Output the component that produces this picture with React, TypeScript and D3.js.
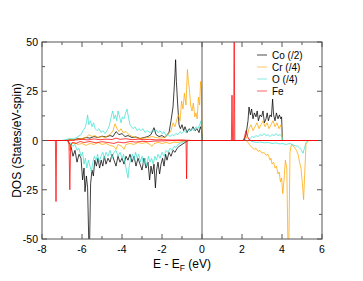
import React from 'react';
import * as d3 from 'd3';

// [energy (eV), DOS] pairs; spin down is negative
const coUp = [[-8,0],[-6.8,0],[-6.6,0.5],[-6.4,0.3],[-6.2,1],[-6.0,0.8],[-5.8,1.5],[-5.6,1.2],[-5.4,2],[-5.2,1.5],[-5.0,2.2],[-4.8,1.8],[-4.6,2.5],[-4.45,2],[-4.3,4.5],[-4.15,3],[-4.0,3.5],[-3.85,2],[-3.7,2.5],[-3.5,1.5],[-3.3,1.8],[-3.1,1],[-2.9,1.5],[-2.7,2],[-2.55,3],[-2.4,6.5],[-2.3,3],[-2.15,2],[-2.0,2.5],[-1.85,1.5],[-1.75,3],[-1.65,4],[-1.55,10],[-1.45,17],[-1.4,25],[-1.35,34],[-1.32,41],[-1.28,30],[-1.22,19],[-1.15,8],[-1.08,6],[-1.0,8],[-0.92,5],[-0.85,7],[-0.75,4],[-0.65,6],[-0.55,5],[-0.45,7],[-0.35,5],[-0.25,6],[-0.15,4],[-0.08,7],[-0.02,5],[0.02,0],[2.1,0],[2.2,3],[2.3,10],[2.35,17],[2.42,13],[2.48,16],[2.55,11],[2.62,14],[2.7,12],[2.76,15],[2.82,10],[2.9,13],[2.98,12],[3.05,15],[3.12,9],[3.2,11],[3.26,14],[3.32,10],[3.4,13],[3.47,12],[3.53,21],[3.58,13],[3.65,10],[3.72,14],[3.8,11],[3.87,13],[3.94,11],[3.98,12],[4.02,0],[6,0]];
const coDown = [[-8,0],[-6.7,0],[-6.55,-3],[-6.45,-8],[-6.35,-5],[-6.25,-11],[-6.15,-7],[-6.05,-9],[-5.97,-20],[-5.9,-14],[-5.85,-26],[-5.78,-18],[-5.72,-24],[-5.66,-52],[-5.62,-52],[-5.57,-22],[-5.5,-15],[-5.43,-18],[-5.36,-10],[-5.28,-13],[-5.2,-9],[-5.12,-14],[-5.04,-10],[-4.96,-13],[-4.88,-8],[-4.8,-12],[-4.7,-9],[-4.6,-11],[-4.5,-7],[-4.4,-10],[-4.3,-13],[-4.2,-8],[-4.1,-11],[-4.0,-9],[-3.9,-12],[-3.8,-8],[-3.7,-10],[-3.6,-7],[-3.5,-11],[-3.4,-8],[-3.3,-13],[-3.2,-9],[-3.1,-12],[-3.0,-15],[-2.9,-9],[-2.8,-14],[-2.7,-11],[-2.62,-20],[-2.55,-13],[-2.48,-17],[-2.4,-12],[-2.33,-24],[-2.27,-15],[-2.2,-11],[-2.12,-17],[-2.05,-12],[-1.97,-9],[-1.9,-13],[-1.82,-7],[-1.75,-10],[-1.65,-6],[-1.55,-8],[-1.45,-5],[-1.35,-6],[-1.25,-4],[-1.15,-3],[-1.0,-2],[-0.85,-1],[-0.7,0],[6,0]];

const crUp = [[-8,0],[-6.8,0],[-6.6,0.5],[-6.4,0.3],[-6.2,0.8],[-6.0,1],[-5.8,1.5],[-5.65,3],[-5.5,2],[-5.35,2.5],[-5.2,1.5],[-5.0,2],[-4.85,1.5],[-4.7,2.5],[-4.55,3.5],[-4.45,5],[-4.35,8.5],[-4.25,6],[-4.15,4.5],[-4.05,6],[-3.95,4],[-3.8,4.5],[-3.65,3],[-3.5,2],[-3.3,1.5],[-3.1,1],[-2.9,1.2],[-2.7,1.5],[-2.5,2],[-2.3,1.5],[-2.1,1.2],[-1.9,1.5],[-1.75,2.5],[-1.65,3.5],[-1.55,5],[-1.45,9],[-1.35,7],[-1.25,11],[-1.18,13],[-1.1,10],[-1.02,20],[-0.95,16],[-0.88,24],[-0.8,18],[-0.73,36],[-0.68,30],[-0.63,26],[-0.57,18],[-0.5,15],[-0.43,19],[-0.36,12],[-0.3,14],[-0.24,11],[-0.18,22],[-0.12,18],[-0.07,30],[-0.03,26],[0.01,0],[2.15,0],[2.25,2],[2.35,6],[2.45,8],[2.55,5],[2.65,7],[2.75,9],[2.85,6],[2.95,8],[3.05,10],[3.15,7],[3.25,9],[3.35,6],[3.45,8],[3.55,10],[3.65,7],[3.75,9],[3.85,6],[3.95,8],[4.02,0],[6,0]];
const crDown = [[-8,0],[-6.75,0],[-6.65,-1.5],[-6.6,-5],[-6.55,-2],[-6.4,-1],[-6.2,-2],[-6.0,-1.5],[-5.8,-2.5],[-5.6,-1.5],[-5.4,-2],[-5.2,-1],[-5.0,-2],[-4.8,-1.5],[-4.6,-2.5],[-4.4,-3],[-4.3,-4.5],[-4.2,-2],[-4.0,-3],[-3.9,-4.5],[-3.8,-2],[-3.6,-1.5],[-3.4,-2],[-3.2,-1],[-3.0,-1.5],[-2.8,-1],[-2.6,-2],[-2.5,-3],[-2.4,-1.5],[-2.2,-1],[-2.0,-1.5],[-1.8,-1],[-1.6,-1.5],[-1.4,-0.8],[-1.2,-1],[-1.0,-0.5],[-0.8,-0.3],[-0.6,0],[2.2,0],[2.3,-1],[2.4,-2.5],[2.5,-3.5],[2.6,-4.5],[2.7,-4],[2.8,-5.5],[2.9,-5],[3.0,-6.5],[3.1,-6],[3.2,-7.5],[3.3,-7],[3.4,-10],[3.45,-9],[3.5,-12],[3.58,-11],[3.65,-14],[3.72,-13],[3.8,-17],[3.86,-16],[3.92,-21],[3.98,-19],[4.04,-27],[4.1,-20],[4.17,-10],[4.24,-14],[4.3,-55],[4.34,-55],[4.4,-6],[4.47,-2],[4.55,-2.5],[4.65,-4],[4.72,-5],[4.8,-7],[4.88,-11],[4.95,-14],[5.02,-22],[5.08,-30],[5.13,-18],[5.2,-2],[5.28,-0.5],[5.35,0],[6,0]];

const oUp = [[-8,0],[-7.0,0],[-6.8,0.5],[-6.6,1],[-6.4,0.8],[-6.2,2],[-6.05,3],[-5.95,5],[-5.85,6.5],[-5.78,9],[-5.72,13],[-5.66,8],[-5.58,10],[-5.5,7],[-5.42,9],[-5.34,6],[-5.25,5],[-5.15,6],[-5.05,4],[-4.95,5],[-4.85,3.5],[-4.75,5],[-4.65,7],[-4.58,10],[-4.52,13],[-4.46,15],[-4.4,11],[-4.33,13],[-4.26,10],[-4.2,15],[-4.12,12],[-4.05,9],[-3.98,12],[-3.9,11],[-3.82,14],[-3.75,16],[-3.68,12],[-3.6,8],[-3.52,7],[-3.45,6],[-3.35,7],[-3.25,5],[-3.15,6],[-3.05,5],[-2.95,6],[-2.85,4],[-2.75,5],[-2.6,4],[-2.5,5],[-2.4,4.5],[-2.3,5.5],[-2.2,4],[-2.1,5],[-2.0,3.5],[-1.9,4.5],[-1.8,2.5],[-1.7,3],[-1.6,2],[-1.5,3],[-1.4,2.5],[-1.3,3.5],[-1.2,3],[-1.1,4.5],[-1.0,3.5],[-0.9,5],[-0.8,4],[-0.7,5.5],[-0.6,4.5],[-0.5,6],[-0.4,5],[-0.3,7],[-0.2,6],[-0.12,8],[-0.05,10],[0.01,0],[2.3,0],[2.4,1],[2.5,2],[2.6,1.5],[2.7,2.5],[2.8,2],[2.9,3],[3.0,2.5],[3.1,3.5],[3.2,2.5],[3.3,3],[3.4,2],[3.5,3],[3.6,2.5],[3.7,3.5],[3.8,2.5],[3.9,3],[4.0,2],[4.05,0],[6,0]];
const oDown = [[-8,0],[-6.8,0],[-6.6,-1],[-6.45,-3],[-6.35,-2],[-6.25,-5],[-6.15,-4],[-6.05,-8],[-5.97,-6],[-5.9,-12],[-5.83,-9],[-5.76,-14],[-5.68,-10],[-5.6,-13],[-5.53,-16],[-5.46,-11],[-5.38,-8],[-5.3,-10],[-5.22,-7],[-5.14,-11],[-5.05,-8],[-4.96,-6],[-4.88,-9],[-4.8,-6],[-4.7,-8],[-4.6,-5],[-4.5,-9],[-4.4,-6],[-4.3,-5],[-4.2,-8],[-4.1,-6],[-4.0,-9],[-3.92,-7],[-3.84,-12],[-3.76,-16],[-3.7,-19],[-3.64,-13],[-3.56,-9],[-3.48,-7],[-3.4,-10],[-3.32,-6],[-3.24,-9],[-3.16,-7],[-3.08,-11],[-3.0,-8],[-2.92,-12],[-2.84,-9],[-2.76,-13],[-2.68,-8],[-2.6,-11],[-2.52,-9],[-2.44,-12],[-2.36,-8],[-2.28,-10],[-2.2,-7],[-2.1,-9],[-2.0,-6],[-1.9,-8],[-1.8,-5],[-1.7,-6],[-1.6,-4],[-1.5,-5],[-1.4,-3],[-1.3,-3.5],[-1.2,-2],[-1.1,-1.5],[-1.0,-1],[-0.9,-0.5],[-0.8,0],[2.4,0],[2.5,-0.5],[2.7,-1],[2.9,-0.8],[3.1,-1.2],[3.3,-1],[3.5,-1.5],[3.7,-1.2],[3.9,-1.8],[4.0,-1.5],[4.2,-2],[4.4,-1.5],[4.6,-2.5],[4.8,-3],[4.95,-4.5],[5.05,-6.5],[5.12,-4],[5.2,-1],[5.3,0],[6,0]];

const feUp = [[-8,0],[-6.5,0],[-6.3,0.3],[-6.0,0.6],[-5.7,0.3],[-5.4,0.8],[-5.1,0.4],[-4.8,0.7],[-4.5,0.5],[-4.3,1.2],[-4.1,0.6],[-3.8,0.9],[-3.5,0.4],[-3.2,0.7],[-2.9,0.4],[-2.6,0.6],[-2.3,0.3],[-2.0,0.4],[-1.5,0.2],[-1.0,0.3],[-0.5,0],[1.47,0],[1.5,23],[1.53,0],[1.58,0],[1.61,60],[1.64,0],[2.05,0],[2.12,1.5],[2.2,5],[2.28,2],[2.35,0.5],[2.45,0],[6,0]];
const feDown = [[-8,0],[-7.33,0],[-7.3,-31],[-7.27,0],[-6.7,0],[-6.65,-2],[-6.61,-25],[-6.57,-3],[-6.5,-1],[-6.3,-1.5],[-6.1,-0.5],[-5.9,-1],[-5.6,-0.5],[-5.3,-1.2],[-5.0,-0.6],[-4.7,-1],[-4.4,-1.5],[-4.2,-0.8],[-3.9,-1.2],[-3.6,-0.5],[-3.3,-0.8],[-3.0,-0.4],[-2.7,-0.6],[-2.4,-0.3],[-2.0,-0.2],[-1.5,0],[-0.8,0],[-0.77,-19.5],[-0.74,0],[6,0]];

const seriesNames = ['Co (/2)', 'Cr (/4)', 'O (/4)', 'Fe'];
const seriesColors = ['#000000', '#ffa500', '#40e0d0', '#ff0000'];
const seriesData = [[coUp, coDown], [crUp, crDown], [oUp, oDown], [feUp, feDown]];

const xTicks = [-8, -6, -4, -2, 0, 2, 4, 6];
const yTicks = [-50, -25, 0, 25, 50];

export default function App() {
  const width = 363, height = 281;
  const left = 42, right = 322, top = 42, bottom = 239;

  const x = d3.scaleLinear().domain([-8, 6]).range([left, right]);
  const y = d3.scaleLinear().domain([-50, 50]).range([bottom, top]);
  const line = d3.line<number[]>().x((d) => x(d[0])).y((d) => y(d[1]));

  const xMinor = d3.range(-8, 6.01, 1);
  const yMinor = d3.range(-50, 50.01, 12.5);
  const font = 'Liberation Sans, Arial, sans-serif';
  const axisColor = '#555';

  return (
    <svg width={width} height={height} style={{position: 'absolute', left: 0, top: 0, background: '#fff'}}>
      <defs>
        <clipPath id="plot">
          <rect x={left} y={top} width={right - left} height={bottom - top} />
        </clipPath>
      </defs>
      <g clipPath="url(#plot)">
        {seriesData.map((pair, i) =>
          pair.map((d, j) => (
            <path key={i + '-' + j} d={line(d) || ''} fill="none" stroke={seriesColors[i]} strokeWidth={0.75} />
          ))
        )}
        <line x1={x(0)} x2={x(0)} y1={top} y2={bottom} stroke="#333" strokeWidth={0.8} />
      </g>

      {/* frame and inward ticks */}
      <rect x={left} y={top} width={right - left} height={bottom - top} fill="none" stroke={axisColor} strokeWidth={1} />
      {xMinor.map((t) => {
        const len = t % 2 === 0 ? 5 : 3;
        return (
          <g key={'xt' + t}>
            <line x1={x(t)} x2={x(t)} y1={bottom} y2={bottom - len} stroke={axisColor} />
            <line x1={x(t)} x2={x(t)} y1={top} y2={top + len} stroke={axisColor} />
          </g>
        );
      })}
      {yMinor.map((t) => {
        const len = t % 25 === 0 ? 5 : 3;
        return (
          <g key={'yt' + t}>
            <line x1={left} x2={left + len} y1={y(t)} y2={y(t)} stroke={axisColor} />
            <line x1={right} x2={right - len} y1={y(t)} y2={y(t)} stroke={axisColor} />
          </g>
        );
      })}
      {xTicks.map((t) => (
        <text key={'xl' + t} x={x(t)} y={bottom + 14} textAnchor="middle" fontSize={10.5} fontFamily={font}>{t}</text>
      ))}
      {yTicks.map((t) => (
        <text key={'yl' + t} x={left - 4} y={y(t) + 4} textAnchor="end" fontSize={10.5} fontFamily={font}>{t}</text>
      ))}

      <text transform={`translate(21, ${(top + bottom) / 2}) rotate(-90)`} textAnchor="middle" fontSize={12} fontFamily={font}>DOS (States/eV-spin)</text>
      <text x={(left + right) / 2} y={268} textAnchor="middle" fontSize={12} fontFamily={font}>
        E - E<tspan fontSize={8.5} dy={3}>F</tspan><tspan dy={-3}> (eV)</tspan>
      </text>

      {/* legend */}
      {seriesNames.map((name, i) => (
        <g key={name} transform={`translate(257, ${55 + i * 12})`}>
          <line x1={0} x2={10} y1={0} y2={0} stroke={seriesColors[i]} strokeWidth={1} opacity={i === 0 ? 0.7 : 0.6} />
          <text x={15} y={3.5} fontSize={10} fontFamily={font}>{name}</text>
        </g>
      ))}
    </svg>
  );
}
